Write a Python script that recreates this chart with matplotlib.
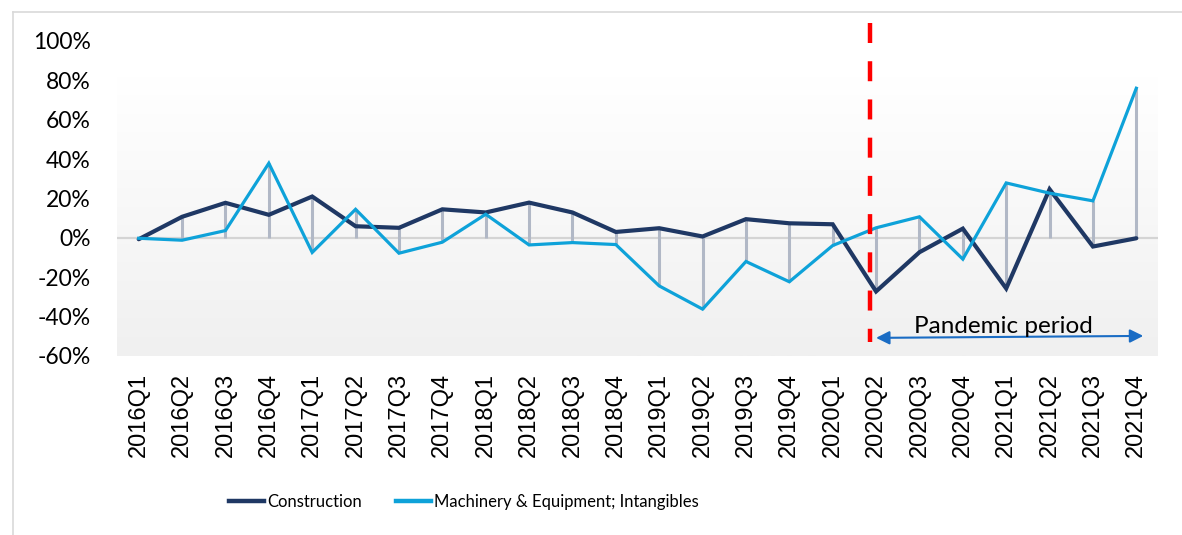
import matplotlib
import numpy as np

matplotlib.use("Agg")
import matplotlib.pyplot as plt
from matplotlib.colors import LinearSegmentedColormap
from matplotlib.lines import Line2D

quarters = [
    "2016Q1", "2016Q2", "2016Q3", "2016Q4",
    "2017Q1", "2017Q2", "2017Q3", "2017Q4",
    "2018Q1", "2018Q2", "2018Q3", "2018Q4",
    "2019Q1", "2019Q2", "2019Q3", "2019Q4",
    "2020Q1", "2020Q2", "2020Q3", "2020Q4",
    "2021Q1", "2021Q2", "2021Q3", "2021Q4",
]
construction = [
    -0.7, 10.7, 17.8, 11.7, 21.0, 5.9, 5.1, 14.5,
    12.9, 17.9, 12.9, 3.0, 4.9, 0.7, 9.5, 7.4,
    6.9, -27.2, -7.3, 4.7, -25.7, 24.7, -4.4, -0.2,
]
machinery = [
    -0.2, -1.2, 3.7, 37.9, -7.4, 14.5, -7.8, -2.2,
    12.0, -3.6, -2.4, -3.4, -24.4, -36.2, -12.0, -22.3,
    -3.9, 5.1, 10.7, -10.8, 27.9, 22.7, 18.8, 76.0,
]
y_ticks = [-60, -40, -20, 0, 20, 40, 60, 80, 100]

pandemic_start = 16.87
arrow_span = (17.0, 23.16)

NAVY = "#1f3864"
CYAN = "#0ea2d9"
DROP = "#b1b8c6"

fig = plt.figure(figsize=(11.82, 5.35), dpi=100)
ax = fig.add_axes([0.099, 0.3346, 0.8807, 0.5888])

x = np.arange(len(quarters))
c = np.array(construction)
m = np.array(machinery)

# background gradient of the plot area
grad = np.linspace(0, 1, 256).reshape(-1, 1)
cmap = LinearSegmentedColormap.from_list("bg", ["#f0f0f0", "#ffffff"])
ax.imshow(grad, cmap=cmap, aspect="auto", origin="lower",
          extent=(-0.5, len(quarters) - 0.5, -60, 82), zorder=0)

ax.axhline(0, color="#d4d4d4", lw=1.6, zorder=1)

# drop lines to the category axis
lo = np.minimum(0, np.minimum(c, m))
hi = np.maximum(0, np.maximum(c, m))
ax.vlines(x, lo, hi, color=DROP, lw=2.2, zorder=2)

ax.plot(x, construction, color=NAVY, lw=3.0, solid_capstyle="round",
        solid_joinstyle="miter", zorder=3)
ax.plot(x, machinery, color=CYAN, lw=2.3, solid_joinstyle="miter", zorder=4)

# pandemic marker
ax.plot([pandemic_start, pandemic_start], [109, -53], color="#ff0000", lw=3.2,
        dashes=(4.5, 4.1), clip_on=False, zorder=5)
ax.annotate("", xy=(arrow_span[1], -49.8), xytext=(arrow_span[0], -50.8),
            arrowprops=dict(arrowstyle="<|-|>", color="#1a6cc4", lw=1.5,
                            mutation_scale=20, shrinkA=0, shrinkB=0),
            zorder=6)
ax.text(19.93, -50.6, "Pandemic period", ha="center", va="bottom",
        fontsize=17.5, family="Lato", color="black", zorder=6)

ax.set_xlim(-0.5, len(quarters) - 0.5)
ax.set_ylim(-60, 100)
ax.set_yticks(y_ticks)
ax.set_yticklabels([f"{v}%" for v in y_ticks], family="Lato", fontsize=16.5)
ax.set_xticks(x)
ax.set_xticklabels(quarters, rotation=90, family="Liberation Sans", fontsize=17,
                   va="top")
ax.tick_params(axis="both", length=0)
ax.tick_params(axis="y", pad=19)
ax.tick_params(axis="x", pad=12)
for s in ax.spines.values():
    s.set_visible(False)

# chart frame (left and top edges)
fig.add_artist(Line2D([13 / 1182, 13 / 1182], [0, 1 - 12 / 535],
                      transform=fig.transFigure, color="#d9d9d9", lw=1.2))
fig.add_artist(Line2D([13 / 1182, 1], [1 - 12 / 535, 1 - 12 / 535],
                      transform=fig.transFigure, color="#d9d9d9", lw=1.2))

handles = [
    Line2D([], [], color=NAVY, lw=3.2),
    Line2D([], [], color=CYAN, lw=3.2),
]
legend_size = 12
fs_px = legend_size * 100 / 72
fig.legend(handles, ["Construction", "Machinery & Equipment; Intangibles"],
           loc="center", bbox_to_anchor=(0.3926, 0.0617), ncol=2,
           frameon=False, prop={"family": "Lato", "size": legend_size},
           handlelength=35 / fs_px, handletextpad=3 / fs_px,
           columnspacing=34 / fs_px)

fig.savefig("out.png", dpi=100)
plt.close(fig)
